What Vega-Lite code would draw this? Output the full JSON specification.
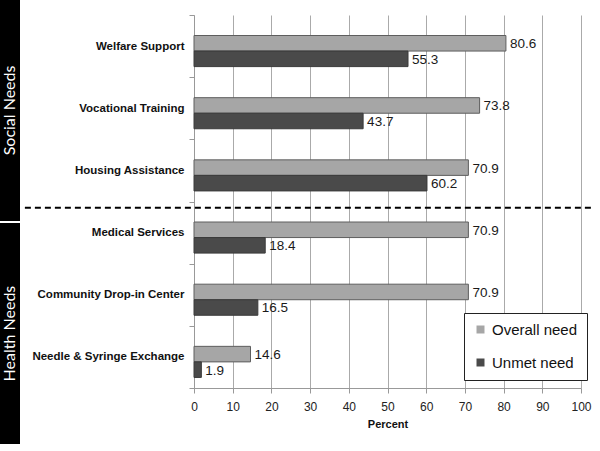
{
  "$schema": "https://vega.github.io/schema/vega-lite/v6.json",
  "padding": 0,
  "spacing": 3,
  "center": true,
  "background": "white",
  "datasets": {
    "bars": [
      {"item": "Welfare Support", "series": "Overall need", "value": 80.6},
      {"item": "Welfare Support", "series": "Unmet need", "value": 55.3},
      {"item": "Vocational Training", "series": "Overall need", "value": 73.8},
      {"item": "Vocational Training", "series": "Unmet need", "value": 43.7},
      {"item": "Housing Assistance", "series": "Overall need", "value": 70.9},
      {"item": "Housing Assistance", "series": "Unmet need", "value": 60.2},
      {"item": "Medical Services", "series": "Overall need", "value": 70.9},
      {"item": "Medical Services", "series": "Unmet need", "value": 18.4},
      {"item": "Community Drop-in Center", "series": "Overall need", "value": 70.9},
      {"item": "Community Drop-in Center", "series": "Unmet need", "value": 16.5},
      {"item": "Needle & Syringe Exchange", "series": "Overall need", "value": 14.6},
      {"item": "Needle & Syringe Exchange", "series": "Unmet need", "value": 1.9}
    ],
    "groups": [{"group": "Social Needs"}, {"group": "Health Needs"}],
    "divider": [{"at": "Medical Services", "from": -43.7, "to": 103.2}]
  },
  "hconcat": [
    {
      "width": 20,
      "height": 444,
      "data": {"name": "groups"},
      "layer": [
        {
          "mark": {"type": "bar", "color": "black"},
          "encoding": {
            "y": {"field": "group", "type": "nominal", "sort": null, "scale": {"paddingInner": 0.01, "paddingOuter": 0}, "axis": null}
          }
        },
        {
          "mark": {"type": "text", "angle": 270, "color": "white", "fontSize": 16, "font": "Lato", "baseline": "middle"},
          "encoding": {
            "y": {"field": "group", "type": "nominal", "sort": null, "axis": null},
            "text": {"field": "group"}
          }
        }
      ]
    },
    {
      "width": 387,
      "height": 373,
      "encoding": {
        "y": {
          "field": "item", "type": "nominal",
          "scale": {"domain": ["Welfare Support", "Vocational Training", "Housing Assistance", "Medical Services", "Community Drop-in Center", "Needle & Syringe Exchange"], "paddingInner": 0, "paddingOuter": 0},
          "axis": {"title": null, "labelFontSize": 11.5, "labelFontWeight": "bold", "labelFont": "Liberation Sans", "labelColor": "#111", "domainColor": "#999", "tickColor": "#999", "tickSize": 5, "labelPadding": 5, "tickBand": "extent"}
        },
        "x": {
          "field": "value", "type": "quantitative",
          "scale": {"domain": [0, 100], "nice": false},
          "axis": {"title": "Percent", "values": [0, 10, 20, 30, 40, 50, 60, 70, 80, 90, 100], "labelOverlap": false, "labelFlush": false, "grid": true, "gridColor": "#aaaaaa", "domainColor": "#999", "tickColor": "#999", "tickSize": 5, "labelFontSize": 12, "labelFont": "Liberation Sans", "labelColor": "#222", "labelPadding": 8, "titleFontSize": 11, "titleFont": "Liberation Sans", "titleFontWeight": "bold", "titleColor": "#111", "titlePadding": 6}
        }
      },
      "layer": [
        {
          "data": {"name": "bars"},
          "mark": {"type": "bar", "strokeWidth": 1},
          "encoding": {
            "yOffset": {"field": "series", "type": "nominal", "scale": {"domain": ["Overall need", "Unmet need"], "paddingInner": 0, "paddingOuter": 1.3, "align": 0.66}},
            "color": {
              "field": "series", "type": "nominal",
              "scale": {"domain": ["Overall need", "Unmet need"], "range": ["#a6a6a6", "#4a4a4a"]},
              "legend": {"title": null, "orient": "none", "legendX": 464, "legendY": 313, "fillColor": "white", "strokeColor": "#222", "padding": 9, "labelFontSize": 15, "labelFont": "Liberation Sans", "labelColor": "#111", "symbolType": "square", "symbolSize": 64, "symbolStrokeWidth": 0, "rowPadding": 17, "labelOffset": 4}
            },
            "stroke": {
              "field": "series", "type": "nominal",
              "scale": {"domain": ["Overall need", "Unmet need"], "range": ["#5e5e5e", "#3a3a3a"]},
              "legend": null
            }
          }
        },
        {
          "data": {"name": "bars"},
          "mark": {"type": "text", "align": "left", "baseline": "middle", "dx": 4, "dy": 1, "fontSize": 13.5, "font": "Liberation Sans", "color": "#1a1a1a"},
          "encoding": {
            "yOffset": {"field": "series", "type": "nominal"},
            "text": {"field": "value", "type": "quantitative", "format": ".1f"}
          }
        },
        {
          "data": {"name": "divider"},
          "mark": {"type": "rule", "color": "black", "strokeWidth": 2, "strokeDash": [6, 4], "clip": false},
          "encoding": {
            "y": {"field": "at", "type": "nominal", "bandPosition": 0.1},
            "x": {"field": "from", "type": "quantitative"},
            "x2": {"field": "to"}
          }
        }
      ]
    }
  ],
  "config": {"view": {"stroke": null}, "axisX": {"labelOverlap": false}}
}
